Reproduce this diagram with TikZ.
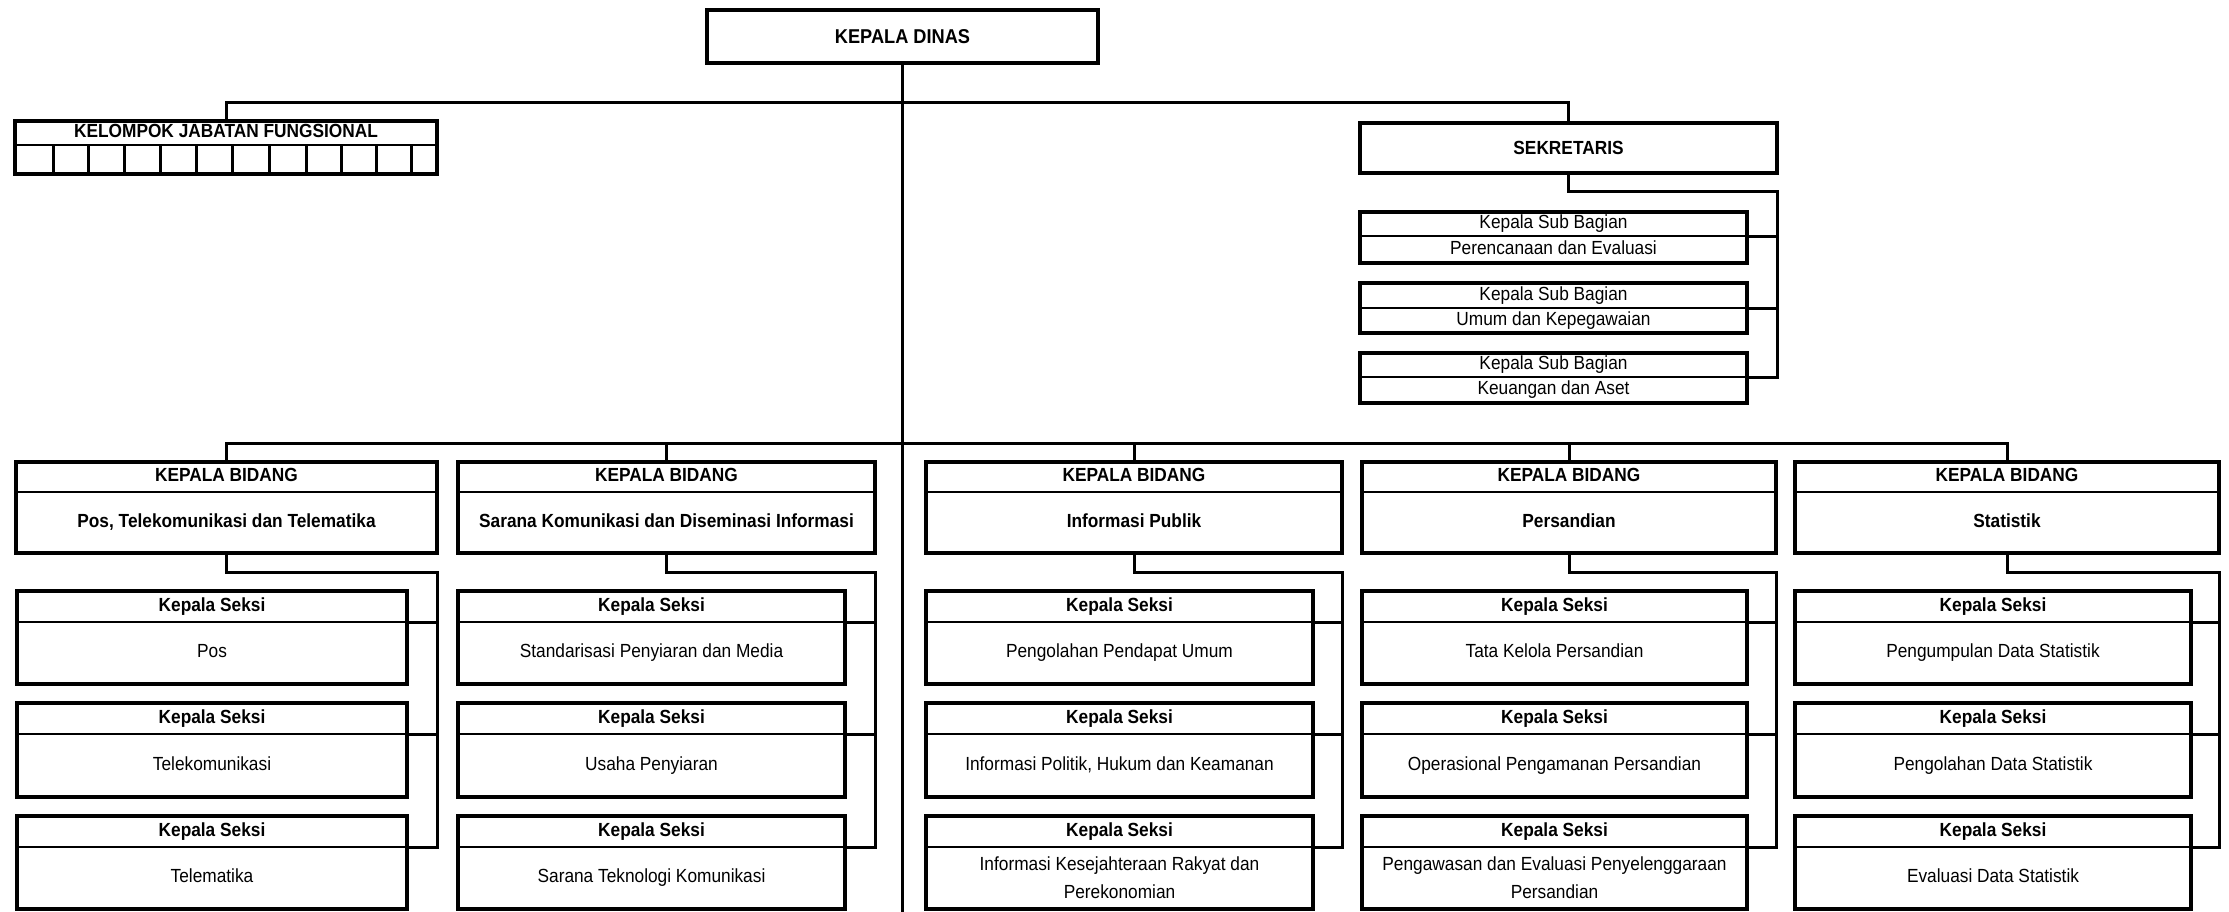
\documentclass[tikz,border=0pt]{standalone}
\usepackage{fontspec}
\setmainfont{Liberation Sans}[FakeStretch=0.91]
\tikzset{
  box/.style={draw, rectangle, line width=3.5pt, inner sep=0pt, outer sep=0pt},
  divline/.style={line width=2.2pt},
  conn/.style={line width=3pt},
  txt/.style={inner sep=0pt, text height=13pt, text depth=4pt, font=\fontsize{19}{28}\selectfont},
  txtb/.style={txt, font=\fontsize{19}{28}\selectfont\bfseries},
  two/.style={inner sep=0pt, align=center, font=\fontsize{19}{28}\selectfont},
}
% #1 name, #2 xl, #3 xr, #4 ytop, #5 ydiv, #6 ybot, #7 header, #8 content style, #9 content
\newcommand\dbox[9]{%
  \node[box, minimum width={(#3)-(#2)}, minimum height={(#6)-(#4)}] (#1) at ({((#2)+(#3))/2},{((#4)+(#6))/2}) {};
  \draw[divline] (#2,#5) -- (#3,#5);
  \coordinate (#1-d) at (#3,#5);
  \node[txtb] (#1-h) at ({((#2)+(#3))/2},{((#4)+(#5))/2}) {#7};
  \node[#8] (#1-c) at ({((#2)+(#3))/2},{((#5)+(#6))/2}) {#9};
}
\begin{document}
\begin{tikzpicture}[x=1pt,y=-1pt]
\useasboundingbox (0,0) rectangle (2229,912);

% top
\node[box, minimum width=391, minimum height=53, font=\fontsize{20}{24}\selectfont\bfseries] (dinas) at (902.5,36.5) {KEPALA DINAS};
\node[box, minimum width=417, minimum height=50, font=\fontsize{19}{24}\selectfont\bfseries] (sek) at (1568.5,148) {SEKRETARIS};

% kelompok jabatan fungsional
\dbox{kjf}{15}{437}{121}{145}{174}{KELOMPOK JABATAN FUNGSIONAL}{txt}{}
\foreach \x in {53,88,124,160,196,232,269,306,341,376,411}
  \draw[line width=3pt] (\x,145) -- (\x,174);

% sub bagian
\dbox{sb1}{1360}{1747}{212}{236}{263}{\mdseries Kepala Sub Bagian}{txt}{Perencanaan dan Evaluasi}
\dbox{sb2}{1360}{1747}{283}{308}{333}{\mdseries Kepala Sub Bagian}{txt}{Umum dan Kepegawaian}
\dbox{sb3}{1360}{1747}{353}{377}{403}{\mdseries Kepala Sub Bagian}{txt}{Keuangan dan Aset}

% bidang
\dbox{b1}{16}{437}{462}{492}{553}{KEPALA BIDANG}{txtb}{Pos, Telekomunikasi dan Telematika}
\dbox{b2}{458}{875}{462}{492}{553}{KEPALA BIDANG}{txtb}{Sarana Komunikasi dan Diseminasi Informasi}
\dbox{b3}{926}{1342}{462}{492}{553}{KEPALA BIDANG}{txtb}{Informasi Publik}
\dbox{b4}{1362}{1776}{462}{492}{553}{KEPALA BIDANG}{txtb}{Persandian}
\dbox{b5}{1795}{2219}{462}{492}{553}{KEPALA BIDANG}{txtb}{Statistik}

% seksi group 1
\dbox{s11}{17}{407}{591}{622}{684}{Kepala Seksi}{txt}{Pos}
\dbox{s12}{17}{407}{703}{734}{797}{Kepala Seksi}{txt}{Telekomunikasi}
\dbox{s13}{17}{407}{816}{847}{909}{Kepala Seksi}{txt}{Telematika}
% group 2
\dbox{s21}{458}{845}{591}{622}{684}{Kepala Seksi}{txt}{Standarisasi Penyiaran dan Media}
\dbox{s22}{458}{845}{703}{734}{797}{Kepala Seksi}{txt}{Usaha Penyiaran}
\dbox{s23}{458}{845}{816}{847}{909}{Kepala Seksi}{txt}{Sarana Teknologi Komunikasi}
% group 3
\dbox{s31}{926}{1313}{591}{622}{684}{Kepala Seksi}{txt}{Pengolahan Pendapat Umum}
\dbox{s32}{926}{1313}{703}{734}{797}{Kepala Seksi}{txt}{Informasi Politik, Hukum dan Keamanan}
\dbox{s33}{926}{1313}{816}{847}{909}{Kepala Seksi}{two}{Informasi Kesejahteraan Rakyat dan\\Perekonomian}
% group 4
\dbox{s41}{1362}{1747}{591}{622}{684}{Kepala Seksi}{txt}{Tata Kelola Persandian}
\dbox{s42}{1362}{1747}{703}{734}{797}{Kepala Seksi}{txt}{Operasional Pengamanan Persandian}
\dbox{s43}{1362}{1747}{816}{847}{909}{Kepala Seksi}{two}{Pengawasan dan Evaluasi Penyelenggaraan\\Persandian}
% group 5
\dbox{s51}{1795}{2191}{591}{622}{684}{Kepala Seksi}{txt}{Pengumpulan Data Statistik}
\dbox{s52}{1795}{2191}{703}{734}{797}{Kepala Seksi}{txt}{Pengolahan Data Statistik}
\dbox{s53}{1795}{2191}{816}{847}{909}{Kepala Seksi}{txt}{Evaluasi Data Statistik}

% connectors
\coordinate (j1) at (902.5,103);
\coordinate (j2) at (902.5,443);
\coordinate (tend) at (902.5,912);
\draw[conn] (dinas.south) -- (tend);
\draw[conn] (kjf.north) |- (j1) -| (sek.north);
\draw[conn] (b1.north) |- (j2) -| (b5.north);
\foreach \b in {b2,b3,b4}
  \draw[conn] (\b.north) -- (\b.north |- j2);

\draw[conn] (sek.south) -- ++(0,19) -| (sek.east |- sb3-d) -- (sb3-d);
\foreach \s in {sb1,sb2}
  \draw[conn] (\s-d) -- (sek.east |- \s-d);

\foreach \g in {1,...,5}{
  \draw[conn] (b\g.south) -- ++(0,19) -| (b\g.east |- s\g3-d) -- (s\g3-d);
  \draw[conn] (s\g1-d) -- (b\g.east |- s\g1-d);
  \draw[conn] (s\g2-d) -- (b\g.east |- s\g2-d);
}
\end{tikzpicture}
\end{document}
